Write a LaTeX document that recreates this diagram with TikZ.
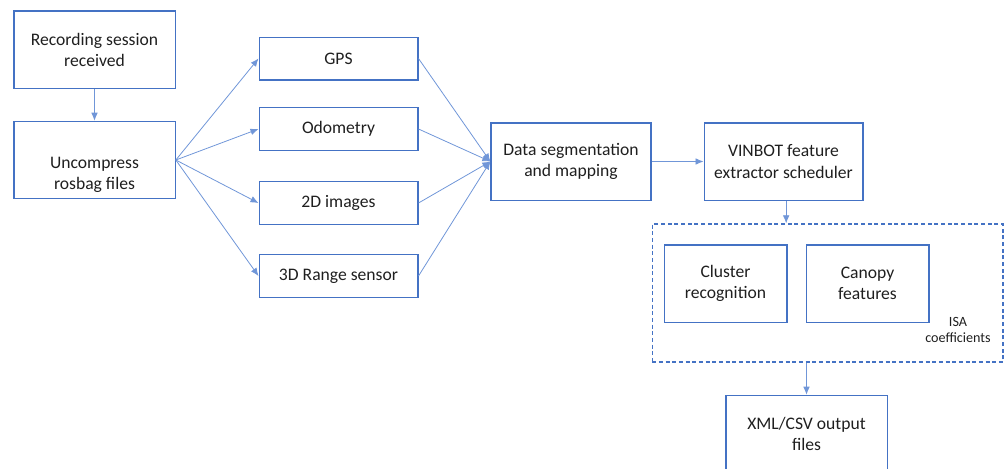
\documentclass[tikz,border=0pt]{standalone}
\usepackage{fontspec}
\setmainfont{Carlito}
\usetikzlibrary{arrows.meta}
\definecolor{boxblue}{HTML}{4472C4}
\definecolor{linkblue}{HTML}{7096D8}
\definecolor{txt}{HTML}{1F1F1F}
\tikzset{
  box/.style={draw=boxblue, line width=1pt, align=center, text=txt, inner sep=0pt,
    font=\fontsize{13.2}{15.8}\selectfont},
  link/.style={draw=linkblue, line width=0.6pt, -{Latex[length=6pt,width=5pt]}, color=linkblue}
}
\begin{document}
\begin{tikzpicture}[x=0.75pt, y=-0.75pt]
\useasboundingbox (0,0) rectangle (1007,468);

% Input side
\node[box, minimum width=121pt, minimum height=58pt] (rec) at (94.5,49.5) {Recording session\\received};
\node[box, minimum width=121pt, minimum height=58pt] (unc) at (94.5,160) {};
\node[box, draw=none] (unctxt) at ([yshift=-11pt]unc.center) {Uncompress\\rosbag files};

% Sensor streams
\node[box, minimum width=119pt, minimum height=32pt] (gps) at (338.5,58.5) {GPS};
\node[box, minimum width=119pt, minimum height=32pt] (odo) at (338.5,129) {Odometry};
\node[box, minimum width=119pt, minimum height=32pt] (img) at (338.5,203) {2D images};
\node[box, minimum width=119pt, minimum height=32pt] (rng) at (338.5,276) {3D Range sensor};

% Processing
\node[box, minimum width=120pt, minimum height=58pt] (seg) at (571,161.5) {Data segmentation\\and mapping};
\node[box, minimum width=119pt, minimum height=58pt] (vin) at (783.5,161.5) {VINBOT feature\\extractor scheduler};

% Feature extractors
\node[draw=boxblue, line width=1pt, dash pattern=on 3pt off 2pt, minimum width=263pt, minimum height=103.5pt] (grp) at (827.5,293) {};
\node[box, minimum width=92pt, minimum height=58pt] (clu) at (725.5,283.5) {Cluster\\recognition};
\node[box, minimum width=92pt, minimum height=58pt] (can) at (867.5,283.5) {Canopy\\features};
\node[align=center, text=txt, font=\fontsize{10.6}{12}\selectfont] (isa) at (958,330) {ISA\\coefficients};

% Output
\node[box, minimum width=121pt, minimum height=58pt] (xml) at (806.5,434) {XML/CSV output\\files};

% Arrows
\draw[link] (rec) -- (unc);
\foreach \s in {gps,odo,img,rng}
  \draw[link] (unc.east) -- (\s.west);
\foreach \s in {gps,odo,img,rng}
  \draw[link] (\s.east) -- (seg.west);
\draw[link] (seg) -- (vin);
\draw[link] ([xshift=2pt]vin.south) -- ([xshift=2pt]vin.south |- grp.north);
\draw[link] (xml.north |- grp.south) -- (xml.north);

\end{tikzpicture}
\end{document}
